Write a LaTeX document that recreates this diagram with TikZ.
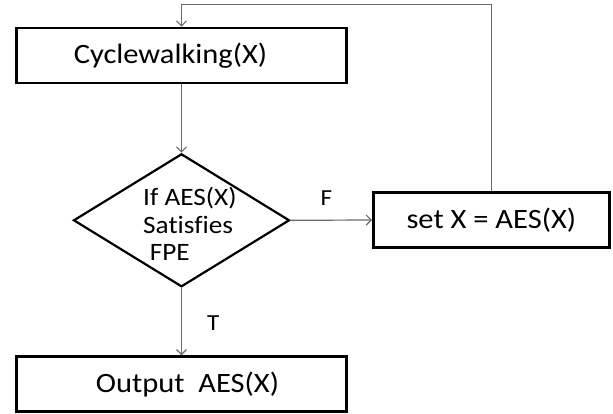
\documentclass[tikz,border=0pt]{standalone}
\usepackage{fontspec}
\setmainfont{Carlito}[FakeStretch=1.09, Ligatures=NoCommon]
\usetikzlibrary{shapes.geometric,arrows.meta}
\definecolor{linegray}{HTML}{6A6A6A}
\begin{document}
\begin{tikzpicture}[x=1pt,y=-1pt,
  procbox/.style={draw=black, line width=2.6pt, minimum width=330pt,
    minimum height=55pt, inner sep=0pt, font=\fontsize{28}{34}\selectfont},
  decision/.style={diamond, draw=black, line width=2.2pt, inner sep=0pt,
    minimum width=216pt, minimum height=133pt},
  conn/.style={draw=linegray, line width=1.2pt,
    -{Straight Barb[length=5pt,width=10pt]}},
  lbl/.style={font=\fontsize{23}{28}\selectfont, inner sep=0pt}]
\useasboundingbox (0,0) rectangle (613,413);

% process boxes
\node[procbox] (cyc) at (181.5,55.5) {\raisebox{-2pt}{Cyclewalking(X)}\hspace*{22pt}};
\node[procbox] (out) at (181.5,384.2) {\hspace*{12pt}Output\ \ AES(X)};
\node[procbox, minimum width=236pt, minimum height=54.6pt] (set) at (491.3,220) {set X = AES(X)};

% decision
\node[decision] (dia) at (181.5,220.3) {};
\node[font=\fontsize{25}{27.5}\selectfont, align=left, anchor=north west, inner sep=0pt]
  (diatxt) at (143,187.3) {If AES(X)\\Satisfies\\\hspace*{6.7pt}FPE};

% connectors
\coordinate (looptop) at (300,4.7);
\draw[conn] (cyc.south) -- (dia.north);
\draw[conn] (dia.east) -- (set.west)
  node[lbl, anchor=base, pos=0.44, yshift=15pt] (flbl) {F};
\draw[conn] (dia.south) -- (out.north)
  node[lbl, anchor=base, pos=0.63, xshift=31.8pt] (tlbl) {T};
\draw[conn] (set.north) |- (cyc.north |- looptop) -- (cyc.north);
\end{tikzpicture}
\end{document}
